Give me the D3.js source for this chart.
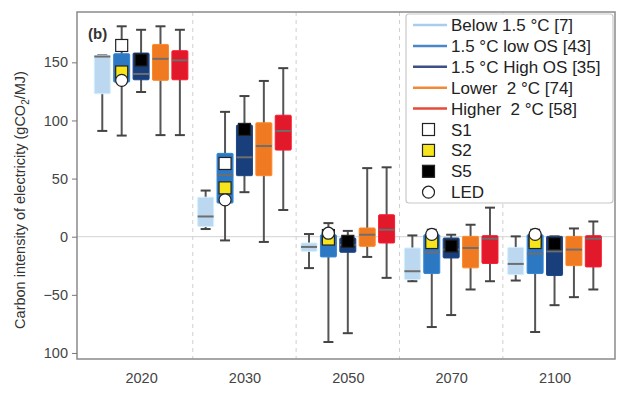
<!DOCTYPE html>
<html><head><meta charset="utf-8">
<script src="https://cdn.jsdelivr.net/npm/d3@7"></script>
<style>body{margin:0;background:#fff;font-family:"Liberation Sans",Arial,sans-serif;} text{white-space:pre;}</style>
</head><body><svg id="c" width="630" height="398"></svg>
<script>
const years = ["2020","2030","2050","2070","2100"];
const seriesNames = ["Below 1.5 °C [7]","1.5 °C low OS [43]","1.5 °C High OS [35]","Lower  2 °C [74]","Higher  2 °C [58]"];
const seriesColors = ["#bcd8f1","#2d78c2","#183f7c","#f07a22","#e2182b"];
// [lowWhisker, q1, median, q3, highWhisker] per year
const below15 = [[91,123,155,156,156],[6.6,8.8,17.4,34,39.7],[-27,-12.6,-8.8,-5.4,2.3],[-38.3,-36.8,-29.7,-9.7,1.1],[-37.7,-32.6,-23.4,-9.2,0.3]];
const low15OS = [[87,133,143,157.4,181],[-3.2,28.9,53,71.7,107.4],[-90.6,-17.4,-5.4,1.7,11.7],[-77.7,-31.7,-13.4,1.7,6],[-82,-31.7,-14.6,1.7,6]];
const high15OS = [[124.5,135,140,158,178],[38.3,52.5,68.3,96,121],[-83,-13.4,-7,-1.1,5],[-67.4,-18.3,-11,-1.1,1.7],[-58.9,-33.4,-12.6,0.3,0.3]];
const lower2 = [[87.4,134.5,153,165.4,181],[-4.5,52.5,78,98,134],[-17.4,-8.3,1.7,7.5,59],[-45.4,-26.8,-9.7,0.3,10.3],[-52,-24.9,-11.1,0.3,7.1]];
const higher2 = [[87.4,135,151.7,160,178],[23,74.5,91,104.5,145],[-35.4,-5.4,6,18.9,59.7],[-38.3,-23,-1.7,0.9,25],[-45.4,-26,-1.7,0.9,13.1]];
const seriesData = [below15, low15OS, high15OS, lower2, higher2];
// illustrative pathways: value per year
const s1 = [164.5,63,1,-3,-3];
const s2 = [141.7,42,-2,-5,-5];
const s5 = [152,92.3,-4,-8,-6];
const led = [134.5,31.7,3,2,2];
const yTickValues = [-100,-50,0,50,100,150];
const yTickLabels = ["100","\u221250","0","50","100","150"];

const svg = d3.select("#c");
const L=77,R=615,T=12,B=359;
const x = d3.scaleLinear().domain([-0.62,4.585]).range([L,R]);
const y = d3.scaleLinear().domain([-105.2,193.3]).range([B,T]);
const off = 19.4, bw = 16;
const FF = "Liberation Sans, Arial, sans-serif";

svg.append("line").attr("x1",L).attr("x2",R).attr("y1",y(0)).attr("y2",y(0)).attr("stroke","#d4d4d4").attr("stroke-width",1);
for(let i=0;i<years.length-1;i++){
  svg.append("line").attr("x1",x(i+0.5)).attr("x2",x(i+0.5)).attr("y1",T).attr("y2",B)
    .attr("stroke","#cfcfcf").attr("stroke-width",1).attr("stroke-dasharray","4,4");
}
seriesData.forEach((sd,si)=>{
  const g = svg.append("g");
  sd.forEach((d,yi)=>{
    const cx = x(yi) + (si-2)*off;
    g.append("line").attr("x1",cx).attr("x2",cx).attr("y1",y(d[0])).attr("y2",y(d[4])).attr("stroke","#555").attr("stroke-width",2);
    [d[0],d[4]].forEach(v=>g.append("line").attr("x1",cx-5).attr("x2",cx+5).attr("y1",y(v)).attr("y2",y(v)).attr("stroke","#444").attr("stroke-width",2));
    g.append("rect").attr("x",cx-bw/2).attr("y",y(d[3])).attr("width",bw).attr("height",Math.max(1,y(d[1])-y(d[3])))
      .attr("fill",seriesColors[si]).attr("stroke",d3.color(seriesColors[si]).brighter(0.3)).attr("stroke-width",1).attr("rx",1);
    g.append("line").attr("x1",cx-bw/2).attr("x2",cx+bw/2).attr("y1",y(d[2])).attr("y2",y(d[2])).attr("stroke","#6e6e6e").attr("stroke-width",2);
  });
});
const ms = 12;
function sq(cx,v,fill){svg.append("rect").attr("x",cx-ms/2).attr("y",y(v)-ms/2).attr("width",ms).attr("height",ms).attr("fill",fill).attr("stroke","#222").attr("stroke-width",1.2);}
years.forEach((yr,yi)=>{
  const c1 = x(yi)-off, c2 = x(yi);
  sq(c1,s1[yi],"#fff");
  sq(c1,s2[yi],"#f6e51c");
  sq(c2,s5[yi],"#000");
  svg.append("circle").attr("cx",c1).attr("cy",y(led[yi])).attr("r",6).attr("fill","#fff").attr("stroke","#222").attr("stroke-width",1.2);
});
svg.append("rect").attr("x",L).attr("y",T).attr("width",R-L).attr("height",B-T).attr("fill","none").attr("stroke","#8a8a8a").attr("stroke-width",1.5);
const ya = svg.append("g").attr("transform",`translate(${L},0)`)
  .call(d3.axisLeft(y).tickValues(yTickValues).tickSize(5).tickPadding(4).tickFormat((d,i)=>yTickLabels[i]));
ya.select(".domain").remove();
ya.selectAll("line").attr("stroke","#777");
ya.selectAll("text").attr("font-size",14.5).attr("fill","#444").attr("font-family",FF);
const xa = svg.append("g").attr("transform",`translate(0,${B})`)
  .call(d3.axisBottom(x).tickValues(d3.range(years.length)).tickSize(0).tickPadding(14).tickFormat(i=>years[i]));
xa.select(".domain").remove();
xa.selectAll("text").attr("font-size",14.5).attr("fill","#444").attr("font-family",FF);
const yt = svg.append("text").attr("transform","translate(25,200) rotate(-90)").attr("text-anchor","middle")
  .attr("font-size",14.5).attr("fill","#333").attr("font-family",FF);
yt.append("tspan").text("Carbon intensity of electricity (gCO");
yt.append("tspan").text("2").attr("font-size",10).attr("dy",4);
yt.append("tspan").text("/MJ)").attr("dy",-4);
svg.append("text").attr("x",88).attr("y",39).attr("font-size",15).attr("font-weight","bold").attr("fill","#333").attr("font-family",FF).text("(b)");
const lg = svg.append("g");
lg.append("rect").attr("x",406).attr("y",14).attr("width",207).attr("height",189).attr("rx",3).attr("fill","#fff").attr("stroke","#c8c8c8").attr("stroke-width",1.2);
const rowY = i => 25 + i*20.9;
const legLine = ["#a9cdef","#4a86c8","#3d4f86","#ef8a3a","#e84a3a"];
seriesNames.forEach((n,i)=>{
  lg.append("line").attr("x1",413).attr("x2",447).attr("y1",rowY(i)).attr("y2",rowY(i)).attr("stroke",legLine[i]).attr("stroke-width",2.5);
  lg.append("text").attr("x",451).attr("y",rowY(i)+6).attr("font-size",17).attr("fill","#222").attr("font-family",FF).text(n);
});
const mk = [["S1","#fff","sq"],["S2","#f6e51c","sq"],["S5","#000","sq"],["LED","#fff","ci"]];
mk.forEach((m,j)=>{
  const yy = rowY(5+j);
  if(m[2]==="sq") lg.append("rect").attr("x",422.5).attr("y",yy-6).attr("width",12).attr("height",12).attr("fill",m[1]).attr("stroke","#222").attr("stroke-width",1.2);
  else lg.append("circle").attr("cx",428.5).attr("cy",yy).attr("r",6).attr("fill",m[1]).attr("stroke","#222").attr("stroke-width",1.2);
  lg.append("text").attr("x",451).attr("y",yy+6).attr("font-size",17).attr("fill","#222").attr("font-family",FF).text(m[0]);
});
</script></body></html>
